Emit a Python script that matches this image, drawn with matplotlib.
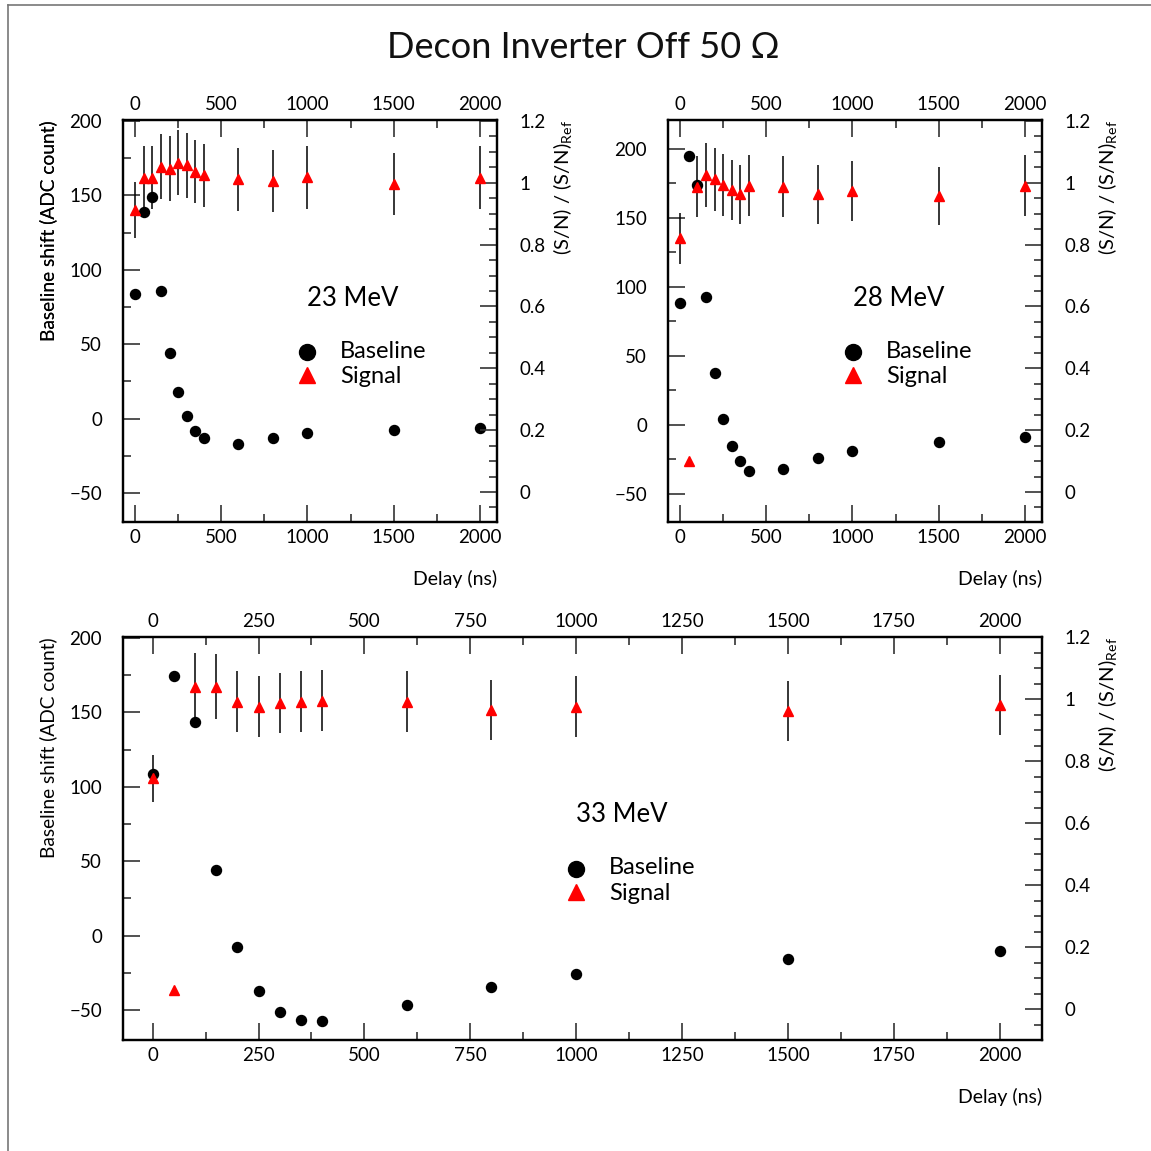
import numpy as np
import matplotlib
matplotlib.use('Agg')
import matplotlib.pyplot as plt
from matplotlib.ticker import MultipleLocator, FuncFormatter
from matplotlib.lines import Line2D

plt.rcParams['font.family'] = ['Lato', 'DejaVu Sans']
plt.rcParams['mathtext.fontset'] = 'custom'
plt.rcParams['mathtext.rm'] = 'Lato'

# delay values (ns), same for all three energies
delay = [0, 50, 100, 150, 200, 250, 300, 350, 400, 600, 800, 1000, 1500, 2000]

# 23 MeV
base_23 = [84, 139, 149, 86, 44, 18, 2, -8, -13, -17, -13, -10, -7.5, -6]
sig_23 = [0.912, 1.017, 1.017, 1.052, 1.046, 1.065, 1.057, 1.035, 1.024,
          1.011, 1.005, 1.018, 0.996, 1.017]
err_23 = [0.092, 0.101, 0.101, 0.105, 0.104, 0.105, 0.105, 0.102, 0.102,
          0.101, 0.101, 0.102, 0.100, 0.102]

# 28 MeV
base_28 = [88.6, 195, 173.7, 93, 38, 4, -15, -26, -33, -32, -24, -18.6, -12.3, -9]
sig_28 = [0.820, 0.101, 0.987, 1.025, 1.011, 0.993, 0.977, 0.963, 0.990,
          0.987, 0.963, 0.975, 0.957, 0.990]
err_28 = [0.082, 0.0, 0.098, 0.103, 0.101, 0.100, 0.097, 0.095, 0.099,
          0.099, 0.095, 0.097, 0.095, 0.099]

# 33 MeV
base_33 = [108.4, 174.5, 143.8, 44, -8, -37, -51.3, -56.5, -57.4, -46.6, -34.8, -25.8, -15.7, -10.6]
sig_33 = [0.744, 0.061, 1.040, 1.040, 0.991, 0.975, 0.988, 0.991, 0.995,
          0.991, 0.965, 0.975, 0.961, 0.981]
err_33 = [0.075, 0.0, 0.109, 0.104, 0.098, 0.098, 0.097, 0.098, 0.099,
          0.098, 0.096, 0.098, 0.096, 0.097]

W = H = 1151
fig = plt.figure(figsize=(W / 100, H / 100), dpi=100)

# frame lines of the canvas
fig.add_artist(Line2D([8 / W, 8 / W], [0, 1 - 5 / H], transform=fig.transFigure, color='#777777', lw=1.2))
fig.add_artist(Line2D([8 / W, 1], [1 - 5 / H, 1 - 5 / H], transform=fig.transFigure, color='#777777', lw=1.2))

fig.text(583 / W, 1 - 47 / H, 'Decon Inverter Off 50 \u03a9', ha='center', va='center',
         fontsize=26, color='#111111')

fmt = FuncFormatter(lambda v, p: '%g' % round(v, 3))


def panel(px, cx, base, sig, err, label, ylim_left, ylim_right, xmaj, xmin):
    l, t, r, b = px
    ax = fig.add_axes([l / W, 1 - b / H, (r - l) / W, (b - t) / H])
    ax.set_xlim(-70, 2100)
    ax.set_ylim(*ylim_left)
    ax.plot(delay, base, 'o', color='black', ms=7.2, zorder=3)

    ax.xaxis.set_major_locator(MultipleLocator(xmaj))
    ax.xaxis.set_minor_locator(MultipleLocator(xmin))
    ax.yaxis.set_major_locator(MultipleLocator(50))
    ax.yaxis.set_minor_locator(MultipleLocator(25))
    ax.tick_params(which='both', direction='in', top=True, labeltop=True,
                   right=False, color='#333333', width=1.2, labelsize=13.5)
    ax.tick_params(which='major', length=12)
    ax.tick_params(which='minor', length=6)
    ax.tick_params(axis='x', pad=5)
    ax.tick_params(axis='y', pad=15)
    for s in ax.spines.values():
        s.set_linewidth(1.6)

    ax2 = ax.twinx()
    ax2.set_ylim(*ylim_right)
    ax2.errorbar(delay, sig, yerr=err, fmt='none', ecolor='black', elinewidth=1.1, capsize=0, zorder=2)
    ax2.plot(delay, sig, '^', color='red', ms=7.5, mec='red', zorder=3)
    ax2.yaxis.set_major_locator(MultipleLocator(0.2))
    ax2.yaxis.set_minor_locator(MultipleLocator(0.05))
    ax2.yaxis.set_major_formatter(fmt)
    ax2.tick_params(which='both', direction='in', color='#333333', width=1.2, labelsize=13.5, pad=16)
    ax2.tick_params(which='major', length=12)
    ax2.tick_params(which='minor', length=6)
    for s in ax2.spines.values():
        s.set_linewidth(1.6)

    w = r - l
    h = b - t
    ax.text((48 - l) / w, 1.0, 'Baseline shift (ADC count)', transform=ax.transAxes,
            rotation=90, ha='center', va='top', fontsize=13.8)
    ax.text((r + 66 - l) / w, 1.0, r'(S/N) / (S/N)$_{\rm Ref}$', transform=ax.transAxes,
            rotation=90, ha='center', va='top', fontsize=14.5)
    ax.text(1.0, -57 / h, 'Delay (ns)', transform=ax.transAxes, ha='right', va='center', fontsize=14)

    ax2.text((cx + 46 - l) / w, 1 - 178 / h, label, transform=ax.transAxes,
             ha='center', va='center', fontsize=18.5)
    ax2.plot([(cx - l) / w], [1 - 232 / h], 'o', color='black', ms=11.5, transform=ax.transAxes, clip_on=False)
    ax2.plot([(cx - l) / w], [1 - 255 / h], '^', color='red', ms=11.5, transform=ax.transAxes, clip_on=False)
    ax2.text((cx + 33 - l) / w, 1 - 231 / h, 'Baseline', transform=ax.transAxes,
             ha='left', va='center', fontsize=17)
    ax2.text((cx + 33 - l) / w, 1 - 256 / h, 'Signal', transform=ax.transAxes,
             ha='left', va='center', fontsize=17)
    return ax, ax2


panel((123, 120, 497, 522), 307, base_23, sig_23, err_23, '23 MeV', (-69.5, 200.7), (-0.097, 1.203), 500, 250)
panel((668, 120, 1042, 522), 853, base_28, sig_28, err_28, '28 MeV', (-70.3, 221), (-0.097, 1.203), 500, 250)
panel((123, 637, 1042, 1040), 576, base_33, sig_33, err_33, '33 MeV', (-70.2, 200.7), (-0.1, 1.2), 250, 125)

fig.savefig('out.png', dpi=100)
